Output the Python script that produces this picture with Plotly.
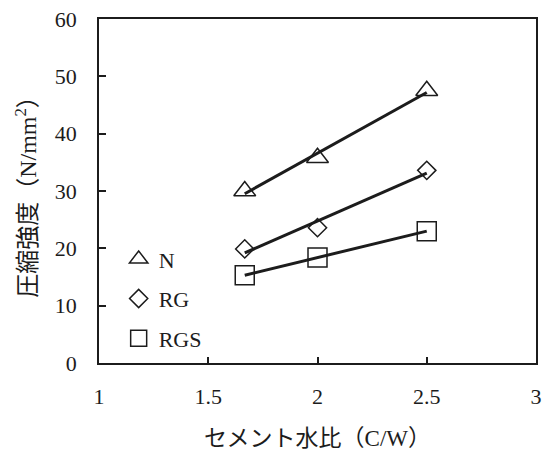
import numpy as np
import plotly.graph_objects as go

# Data
cw = [1.667, 2.0, 2.5]
series_names = ["N", "RG", "RGS"]
n_strength = [30.0, 35.8, 47.5]
rg_strength = [19.9, 23.6, 33.6]
rgs_strength = [15.3, 18.4, 23.0]
x_ticks = [1, 1.5, 2, 2.5, 3]
y_ticks = [0, 10, 20, 30, 40, 50, 60]

symbols = ["triangle-up-open", "diamond-open", "square-open"]
sizes = [19, 14, 19]
values = [n_strength, rg_strength, rgs_strength]

INK = "#1c1c1c"
SERIF = "Liberation Serif, Times New Roman, serif"
MIXED = "Liberation Serif, Noto Sans CJK JP, serif"

fig = go.Figure()
for name, ys, sym, sz in zip(series_names, values, symbols, sizes):
    fig.add_trace(go.Scatter(
        x=cw, y=ys, mode="markers", name=name, legendgroup=name,
        marker=dict(symbol=sym, size=sz, color=INK, line=dict(width=1.5, color=INK)),
    ))
for name, ys in zip(series_names, values):
    k, b = np.polyfit(cw, ys, 1)
    xs = [min(cw), max(cw)]
    fig.add_trace(go.Scatter(
        x=xs, y=[k * v + b for v in xs], mode="lines", showlegend=False,
        line=dict(color=INK, width=3), hoverinfo="skip",
    ))

fig.update_layout(
    width=547, height=456,
    margin=dict(l=99, r=11, t=19, b=93, autoexpand=False),
    paper_bgcolor="white", plot_bgcolor="white",
    font=dict(family=SERIF, size=22, color=INK),
    showlegend=True,
    legend=dict(
        x=0.045, y=0.363, xanchor="left", yanchor="top",
        bgcolor="rgba(0,0,0,0)", font=dict(family=SERIF, size=22, color=INK),
        tracegroupgap=8, itemwidth=30, traceorder="grouped",
    ),
    xaxis=dict(
        range=[1, 3], tickvals=x_ticks, ticktext=[f"{v:g}" for v in x_ticks],
        ticks="inside", ticklen=6, tickwidth=1.5, tickcolor=INK,
        showline=True, linewidth=1.8, linecolor=INK, mirror=True,
        showgrid=False, zeroline=False, ticklabelstandoff=13, automargin=False,
        title=dict(text="セメント水比（C/W）", font=dict(family=MIXED, size=23), standoff=22),
    ),
    yaxis=dict(
        range=[0, 60], tickvals=y_ticks,
        ticks="inside", ticklen=7, tickwidth=1.5, tickcolor=INK,
        showline=True, linewidth=1.8, linecolor=INK, mirror=True,
        showgrid=False, zeroline=False, ticklabelstandoff=16, automargin=False,
        title=dict(text="圧縮強度（N/mm<sup>2</sup>）", font=dict(family=MIXED, size=24), standoff=11),
    ),
)

fig.write_html(
    "out.html",
    config={"displayModeBar": False},
    post_script="document.body.style.margin='0';document.body.style.overflow='hidden';",
)
